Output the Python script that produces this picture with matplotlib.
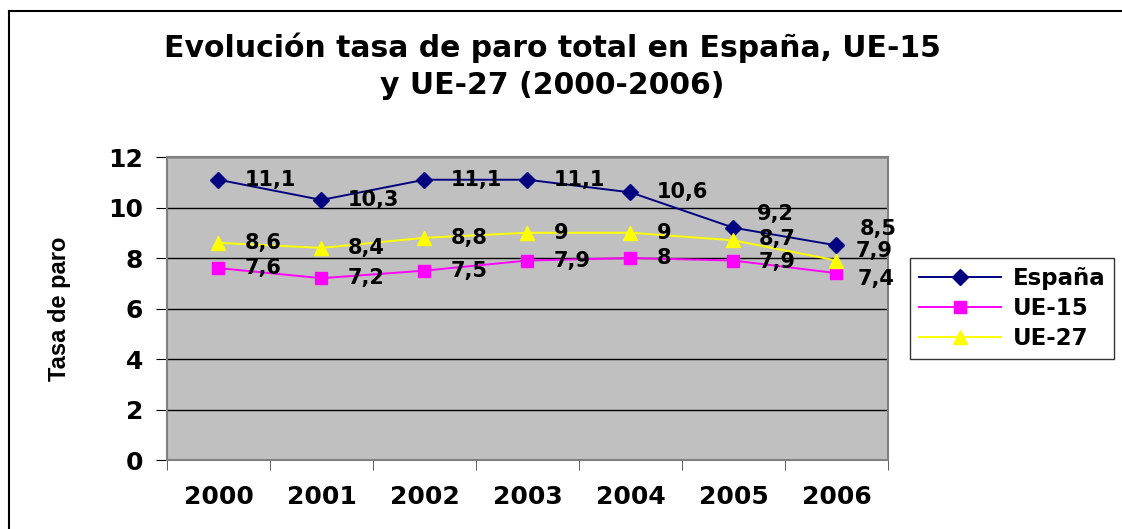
import matplotlib.pyplot as plt
import numpy as np
from matplotlib.lines import Line2D

# Data
years = ['2000', '2001', '2002', '2003', '2004', '2005', '2006']
espana = [11.1, 10.3, 11.1, 11.1, 10.6, 9.2, 8.5]
ue15 = [7.6, 7.2, 7.5, 7.9, 8, 7.9, 7.4]
ue27 = [8.6, 8.4, 8.8, 9, 9, 8.7, 7.9]
yticks = [0, 2, 4, 6, 8, 10, 12]

plt.rcParams['font.family'] = ['DejaVu Sans']

fig = plt.figure(figsize=(11.22, 5.29), dpi=100)
ax = fig.add_axes([0.1488, 0.1304, 0.6426, 0.5728])
ax.set_facecolor('#c0c0c0')

# outer frame: top and left edges only
fx, fy = 8.5 / 1122, 1 - 10.5 / 529
fig.lines.append(Line2D([fx, 1.0], [fy, fy], transform=fig.transFigure,
                        color='black', linewidth=1.5))
fig.lines.append(Line2D([fx, fx], [0.0, fy], transform=fig.transFigure,
                        color='black', linewidth=1.5))

x = np.arange(len(years))
series = [
    ('España', espana, '#000080', 'D', 8),
    ('UE-15', ue15, '#ff00ff', 's', 8),
    ('UE-27', ue27, '#ffff00', '^', 10),
]
# label offsets (points) per series, per year
offsets = {
    'España': [(0, 0)] * 5 + [(-2, 10), (-2, 12)],
    'UE-15': [(0, 0)] * 5 + [(-1, -1), (-4, -4)],
    'UE-27': [(0, 0)] * 5 + [(-1, 1), (-5, 7)],
}
for name, vals, col, mk, ms in series:
    ax.plot(x, vals, color=col, marker=mk, markersize=ms, linewidth=1.4,
            label=name, zorder=3)
    for i, v in enumerate(vals):
        dx, dy = offsets[name][i]
        ax.annotate(f'{v:g}'.replace('.', ','), (x[i], v),
                    xytext=(19 + dx, dy), textcoords='offset points',
                    ha='left', va='center', fontsize=15, fontweight='bold',
                    zorder=4)

ax.set_xlim(-0.5, 6.5)
ax.set_ylim(0, 12)
ax.set_yticks(yticks)
ax.set_yticklabels([str(t) for t in yticks], fontsize=18, fontweight='bold')
ax.set_xticks(x)
ax.set_xticklabels(years, fontsize=18, fontweight='bold')
ax.tick_params(axis='x', length=0, pad=18)
ax.set_xticks(np.arange(-0.5, 7, 1), minor=True)
ax.tick_params(axis='x', which='minor', length=7, color='#404040')
ax.tick_params(axis='y', length=8, pad=9, color='black')
ax.grid(axis='y', color='black', linewidth=1)
ax.set_axisbelow(True)
for s in ax.spines.values():
    s.set_color('#808080')
    s.set_linewidth(1.5)

ax.set_ylabel('Tasa de paro', fontsize=17, fontweight='bold', labelpad=27,
              family=['Liberation Sans Narrow', 'Liberation Sans'])

fig.text(0.492, 0.91, 'Evolución tasa de paro total en España, UE-15',
         ha='center', va='center', fontsize=21.5, fontweight='bold')
fig.text(0.492, 0.838, 'y UE-27 (2000-2006)',
         ha='center', va='center', fontsize=21.5, fontweight='bold')

leg = ax.legend(loc='center left', bbox_to_anchor=(1.03, 0.5),
                prop={'size': 16.5, 'weight': 'bold'},
                handlelength=3.6, handletextpad=0.5,
                frameon=True, fancybox=False, edgecolor='black',
                borderpad=0.4, labelspacing=0.3, borderaxespad=0)
leg.get_frame().set_linewidth(1)

fig.savefig('out.png', dpi=100)
